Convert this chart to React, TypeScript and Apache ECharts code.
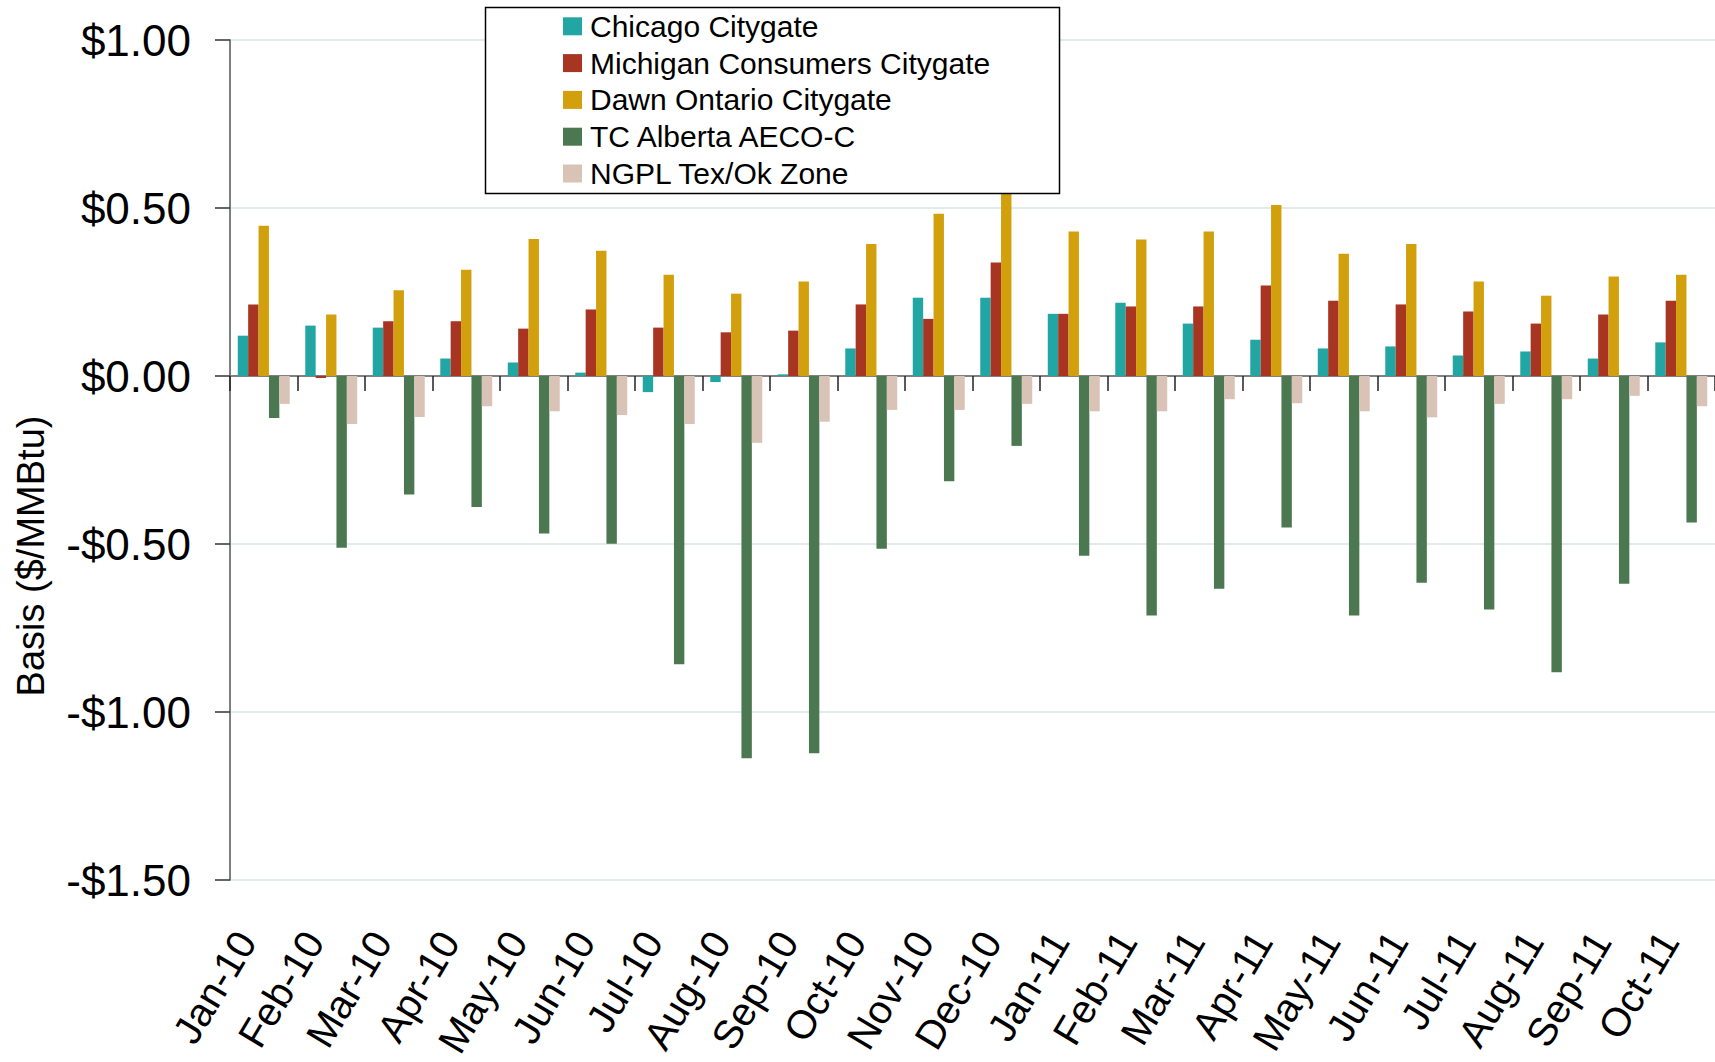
import React, { useEffect, useRef } from 'react';
import * as echarts from 'echarts';

const FONT = '"Liberation Sans", Arial, sans-serif';

const categories = [
  'Jan-10', 'Feb-10', 'Mar-10', 'Apr-10', 'May-10', 'Jun-10', 'Jul-10', 'Aug-10', 'Sep-10', 'Oct-10', 'Nov-10', 'Dec-10',
  'Jan-11', 'Feb-11', 'Mar-11', 'Apr-11', 'May-11', 'Jun-11', 'Jul-11', 'Aug-11', 'Sep-11', 'Oct-11',
];

const chicago = [0.120, 0.150, 0.144, 0.052, 0.040, 0.010, -0.048, -0.018, 0.005, 0.082, 0.233, 0.233, 0.185, 0.218, 0.156, 0.108, 0.082, 0.088, 0.061, 0.073, 0.052, 0.100];
const michigan = [0.213, -0.006, 0.163, 0.163, 0.141, 0.198, 0.144, 0.130, 0.135, 0.213, 0.170, 0.338, 0.185, 0.207, 0.207, 0.269, 0.224, 0.213, 0.192, 0.156, 0.183, 0.224];
const dawn = [0.447, 0.183, 0.255, 0.316, 0.408, 0.373, 0.301, 0.245, 0.281, 0.393, 0.483, 0.560, 0.430, 0.406, 0.430, 0.509, 0.364, 0.393, 0.281, 0.239, 0.296, 0.301];
const aeco = [-0.125, -0.511, -0.353, -0.390, -0.469, -0.499, -0.858, -1.138, -1.123, -0.514, -0.313, -0.208, -0.535, -0.713, -0.633, -0.451, -0.713, -0.615, -0.695, -0.882, -0.618, -0.436];
const ngpl = [-0.083, -0.143, -0.122, -0.090, -0.105, -0.116, -0.143, -0.199, -0.136, -0.101, -0.101, -0.083, -0.105, -0.105, -0.069, -0.081, -0.105, -0.123, -0.083, -0.069, -0.059, -0.090];

const seriesNames = ['Chicago Citygate', 'Michigan Consumers Citygate', 'Dawn Ontario Citygate', 'TC Alberta AECO-C', 'NGPL Tex/Ok Zone'];
const seriesData = [chicago, michigan, dawn, aeco, ngpl];
const seriesColors = ['#22A6A3', '#A83521', '#D3A00D', '#4C7851', '#D9C3B7'];

const yAxisTitle = 'Basis ($/MMBtu)';

function fmtDollar(v: number): string {
  const s = '$' + Math.abs(v).toFixed(2);
  return v < 0 ? '-' + s : s;
}

export default function App() {
  const ref = useRef<HTMLDivElement>(null);
  useEffect(() => {
    document.body.style.margin = '0';
    const chart = echarts.init(ref.current!, null, { renderer: 'svg' });
    chart.setOption({
      animation: false,
      backgroundColor: '#ffffff',
      textStyle: { fontFamily: FONT },
      grid: [
        { left: 230, top: 40, width: 1490.5, height: 840, containLabel: false },
        { left: 212, top: 40, width: 1490.5, height: 840, containLabel: false },
      ],
      legend: {
        orient: 'vertical',
        left: 563,
        top: 11.3,
        itemWidth: 19,
        itemHeight: 18,
        itemGap: 6.8,
        padding: 0,
        icon: 'rect',
        selectedMode: false,
        z: 10,
        textStyle: { fontSize: 30, color: '#000', fontFamily: FONT, padding: [0, 0, 0, 3] },
        data: seriesNames,
      },
      graphic: [
        {
          type: 'rect',
          z: 5,
          shape: { x: 485.5, y: 7.5, width: 574, height: 186 },
          style: { fill: '#ffffff', stroke: '#000000', lineWidth: 1.5 },
        },
        {
          type: 'text',
          x: 31,
          y: 556,
          rotation: Math.PI / 2,
          style: {
            text: yAxisTitle,
            font: '38px "Liberation Sans", Arial, sans-serif',
            fill: '#000',
            textAlign: 'center',
            textVerticalAlign: 'middle',
          },
        },
      ],
      xAxis: [
        {
          type: 'category',
          gridIndex: 0,
          data: categories,
          boundaryGap: true,
          axisLine: { show: true, onZero: true, lineStyle: { color: '#808080', width: 2 } },
          axisTick: { show: true, length: 15, lineStyle: { color: '#222', width: 1.5 } },
          axisLabel: { show: false },
          splitLine: { show: false },
        },
        {
          type: 'category',
          gridIndex: 1,
          data: categories,
          position: 'bottom',
          boundaryGap: true,
          axisLine: { show: false, onZero: false },
          axisTick: { show: false },
          axisLabel: {
            show: true,
            interval: 0,
            rotate: 59,
            margin: 55,
            fontSize: 40,
            color: '#000',
            fontFamily: FONT,
            hideOverlap: false,
          },
          splitLine: { show: false },
        },
      ],
      yAxis: [
        {
          type: 'value',
          gridIndex: 0,
          min: -1.5,
          max: 1.0,
          interval: 0.5,
          axisLine: { show: true, lineStyle: { color: '#555', width: 1.5 } },
          axisTick: { show: true, length: 15, lineStyle: { color: '#333', width: 1.5 } },
          axisLabel: { fontSize: 44, color: '#000', margin: 39, fontFamily: FONT, formatter: (v: number) => fmtDollar(v) },
          splitLine: { show: true, lineStyle: { color: '#D6E6E6', width: 1.5 } },
        },
        {
          type: 'value',
          gridIndex: 1,
          min: -1.5,
          max: 1.0,
          interval: 0.5,
          show: false,
          splitLine: { show: false },
        },
      ],
      series: seriesNames.map((name, i) => ({
        name,
        type: 'bar',
        xAxisIndex: 0,
        yAxisIndex: 0,
        data: seriesData[i],
        barGap: '0%',
        barCategoryGap: '23%',
        itemStyle: { color: seriesColors[i] },
      })),
    });
    return () => chart.dispose();
  }, []);
  return <div ref={ref} style={{ width: 1715, height: 1062, position: 'absolute', left: 0, top: 0 }} />;
}
